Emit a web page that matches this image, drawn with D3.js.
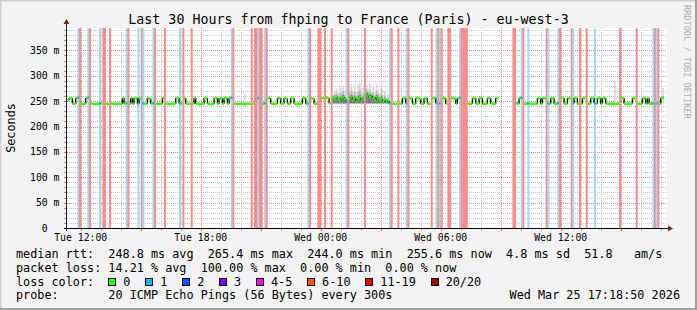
<!DOCTYPE html>
<html>
<head>
<meta charset="utf-8">
<script src="https://d3js.org/d3.v7.min.js"></script>
<style>
body { margin: 0; background: #f3f3f3; }
svg { display: block; font-family: "DejaVu Sans Mono", monospace; }
text { white-space: pre; }
</style>
</head>
<body>
<svg id="ping-viz"></svg>
<script>
// Chart data: one value per 5 minute step, first step starts Tue 11:20
const stepStart = new Date(2026, 2, 24, 11, 20);
const stepMinutes = 5;

// median rtt in ms per step (null = no answer / no data)
const median = [
  252, 256, 256, 245, 245, 256, 257, null, 245, 244, 245, 256, 257, null, 245, 245, 244, 245, 245, 246,
  245, null, null, 245, 244, null, 245, 245, 245, 244, 245, 245, 245, 256, 245, 246, null, 245, 256, 245,
  256, 256, 245, 256, null, 246, 245, 245, 256, 255, 245, 246, null, 245, 244, 245, 245, 256, null, 245,
  245, 244, 245, 245, 245, 256, 256, 246, 245, null, 256, 245, 245, 245, null, 245, 256, 245, 245, 244,
  245, 245, 256, 256, 245, 245, 244, 245, 256, 256, 245, 256, 255, 245, 256, 256, 245, 256, 257, null,
  245, 245, 244, 245, 245, 245, 244, 245, 245, 245, null, 245, null, null, 256, null, null, 245, 246, null,
  256, 256, 245, 245, 245, 245, 256, 256, 245, 245, 256, 255, 245, 245, 256, 256, 245, 244, 245, 245,
  245, 256, 256, 245, 246, null, 256, 255, 245, 245, null, null, 256, 256, null, 257, 256, 246, null, 258,
  256, 258, 254, 252, 256, 258, 254, 250, null, 255, 258, 253, 256, 250, 254, 257, 252, 255, null, 265,
  262, 258, 261, 256, 253, 258, 255, 252, 254, 250, 253, 248, 251, 246, null, 245, 245, 245, null, 245,
  245, 256, 256, 246, null, 256, 256, 245, 245, 256, 256, 255, 245, 245, 256, 256, 245, 245, null, 256,
  256, 246, null, 246, null, 256, 256, 245, null, null, 256, 256, 255, 245, 256, 257, null, null, null, null,
  245, 245, 245, 256, 256, 245, 245, 256, 256, 245, 245, 245, 256, 256, 245, 245, 245, 256, 256, null,
  null, null, null, null, null, null, null, null, null, 246, 245, 256, 257, null, 245, 245, 246, 245, 245, 244,
  245, 245, 256, 256, 245, 256, 256, null, 246, 245, 256, 256, 245, 245, 246, null, 256, 256, 245, 245,
  256, 256, null, 246, 256, 256, 245, null, 245, 256, 256, null, 245, 245, 256, 256, 246, 245, 256, 256,
  245, 256, 256, 245, 245, 245, 245, 245, 245, 245, 245, null, 256, 256, 245, 245, 245, 245, 245, 256,
  256, null, 245, 245, 245, 256, 256, 245, 256, 245, 245, 246, null, 246, null, 245, 256, 257, null, null
];

// steps with packet loss (count of 20 pings lost)
const lossStep = [6, 7, 12, 13, 19, 21, 22, 25, 35, 36, 42, 44, 45, 51, 52, 58, 67, 69, 74, 98, 99,
  110, 112, 113, 114, 115, 116, 118, 119, 144, 145, 150, 151, 154, 158, 167, 168, 178, 193, 194, 198,
  203, 204, 218, 221, 222, 223, 224, 228, 229, 235, 236, 237, 238, 239, 267, 268, 272, 273, 276,
  287, 288, 294, 295, 302, 303, 307, 311, 316, 331, 341, 351, 352, 353, 354];
const lossCount = [1, 20, 1, 20, 1, 20, 20, 20, 1, 20, 1, 20, 1, 1, 20, 20, 1, 20, 20, 1, 20,
  20, 20, 20, 1, 20, 20, 1, 20, 1, 20, 20, 20, 20, 20, 1, 20, 20, 1, 20, 20,
  1, 20, 20, 1, 20, 1, 20, 20, 20, 1, 20, 20, 20, 20, 20, 20, 1, 20, 1,
  20, 1, 1, 20, 20, 1, 20, 20, 1, 20, 20, 1, 20, 1, 20];

// smoke: highest ping (ms) in steps with jitter
const smokeStep = [106, 159, 160, 161, 162, 163, 164, 165, 166, 167, 169, 170, 171, 172, 173, 174, 175,
  176, 177, 179, 180, 181, 182, 183, 184, 185, 186, 187, 188, 189, 190, 191, 192, 193, 328, 357];
const smokeTop = [262, 264, 268, 275, 266, 280, 272, 282, 270, 264, 279, 284, 270, 281, 268, 283, 286,
  272, 276, 282, 274, 284, 270, 280, 266, 283, 272, 266, 292, 262, 270, 258, 264, 256, 289, 276];
const smokeLow = 244;

const yMinorTicks = d3.range(0, 391, 10);
const yMajorTicks = [0, 50, 100, 150, 200, 250, 300, 350];
const xLabelTimes = [new Date(2026, 2, 24, 12), new Date(2026, 2, 24, 18), new Date(2026, 2, 25, 0),
  new Date(2026, 2, 25, 6), new Date(2026, 2, 25, 12)];

const titleText = 'Last 30 Hours from fhping to France (Paris) - eu-west-3';
const rttLine = 'median rtt:  248.8 ms avg  265.4 ms max  244.0 ms min  255.6 ms now  4.8 ms sd  51.8   am/s';
const lossLine = 'packet loss: 14.21 % avg  100.00 % max  0.00 % min  0.00 % now';
const probeLine = 'probe:       20 ICMP Echo Pings (56 Bytes) every 300s';
const stampText = 'Wed Mar 25 17:18:50 2026';
const lossLabels = ['0', '1', '2', '3', '4-5', '6-10', '11-19', '20/20'];
const lossColors = ['#26ff00', '#00b8ff', '#0059ff', '#7e00ff', '#ff00ff', '#ff5500', '#ff0000', '#a10000'];

// Size of the picture and the plot box
let width = 697;
let height = 310;
let plotLeft = 67, plotRight = 667, plotTop = 28, plotBottom = 228;

let svg = d3.select('#ping-viz')
    .attr('width', width)
    .attr('height', height);

let x = d3.scaleTime()
    .domain([new Date(2026, 2, 24, 11, 18, 50), new Date(2026, 2, 25, 17, 18, 50)])
    .range([plotLeft, plotRight]);
let y = d3.scaleLinear()
    .domain([0, 200 / 0.5074])
    .range([plotBottom, plotTop]);

function stepTime(k) {
    return new Date(stepStart.getTime() + k * stepMinutes * 60000);
}

// frame
svg.append('rect').attr('width', width).attr('height', height).attr('fill', '#f3f3f3');
svg.append('path').attr('d', `M0.5,${height} V0.5 H${width}`).attr('stroke', '#d0d0d0').attr('stroke-width', 2).attr('fill', 'none');
svg.append('path').attr('d', `M0,${height - 1} H${width - 1} V0`).attr('stroke', '#a0a0a0').attr('stroke-width', 2).attr('fill', 'none');

// plot background
svg.append('rect')
    .attr('x', plotLeft).attr('y', plotTop)
    .attr('width', plotRight - plotLeft).attr('height', plotBottom - plotTop)
    .attr('fill', '#ffffff');

// grid
let grid = svg.append('g').attr('shape-rendering', 'crispEdges').attr('stroke-dasharray', '1,1');
grid.selectAll('.hminor').data(yMinorTicks.filter(v => v > 0 && v % 50 !== 0)).enter()
    .append('line')
    .attr('x1', plotLeft).attr('x2', plotRight)
    .attr('y1', d => Math.round(y(d)) + 0.5).attr('y2', d => Math.round(y(d)) + 0.5)
    .attr('stroke', '#c8c8c8');
let hourTicks = x.ticks(d3.timeHour.every(1));
grid.selectAll('.vminor').data(hourTicks.filter(d => d.getHours() % 3 !== 0)).enter()
    .append('line')
    .attr('x1', d => Math.round(x(d)) + 0.5).attr('x2', d => Math.round(x(d)) + 0.5)
    .attr('y1', plotTop).attr('y2', plotBottom)
    .attr('stroke', '#c8c8c8');
grid.selectAll('.hmajor').data(yMajorTicks.filter(v => v > 0)).enter()
    .append('line')
    .attr('x1', plotLeft).attr('x2', plotRight)
    .attr('y1', d => Math.round(y(d)) + 0.5).attr('y2', d => Math.round(y(d)) + 0.5)
    .attr('stroke', '#f08080');
grid.selectAll('.vmajor').data(hourTicks.filter(d => d.getHours() % 3 === 0)).enter()
    .append('line')
    .attr('x1', d => Math.round(x(d)) + 0.5).attr('x2', d => Math.round(x(d)) + 0.5)
    .attr('y1', plotTop).attr('y2', plotBottom)
    .attr('stroke', '#f08080');

// loss bars
let lossData = lossStep.map((k, i) => ({ k: k, n: lossCount[i] }));
svg.append('g').selectAll('rect').data(lossData).enter()
    .append('rect')
    .attr('x', d => x(stepTime(d.k)))
    .attr('width', d => x(stepTime(d.k + 1)) - x(stepTime(d.k)) + 0.3)
    .attr('y', plotTop)
    .attr('height', plotBottom - plotTop)
    .attr('fill', d => d.n >= 20 ? '#ff8a8a' : '#9cdcf6');

// smoke
let smokeData = smokeStep.map((k, i) => ({ k: k, top: smokeTop[i], med: median[k] == null ? smokeLow : median[k] }));
let smoke = svg.append('g');
smoke.selectAll('.outer').data(smokeData).enter()
    .append('rect')
    .attr('x', d => x(stepTime(d.k)))
    .attr('width', d => x(stepTime(d.k + 1)) - x(stepTime(d.k)))
    .attr('y', d => y(d.top))
    .attr('height', d => y(smokeLow) - y(d.top))
    .attr('fill', '#dadada');
smoke.selectAll('.mid').data(smokeData.filter(d => d.k > 150 && d.k < 200)).enter()
    .append('rect')
    .attr('x', d => x(stepTime(d.k)))
    .attr('width', d => x(stepTime(d.k + 1)) - x(stepTime(d.k)))
    .attr('y', d => y(d.med + (d.top - d.med) * 0.5))
    .attr('height', d => y(smokeLow + 1) - y(d.med + (d.top - d.med) * 0.5))
    .attr('fill', '#b8b8b8');
smoke.selectAll('.inner').data(smokeData.filter(d => d.k > 150 && d.k < 200)).enter()
    .append('rect')
    .attr('x', d => x(stepTime(d.k)))
    .attr('width', d => x(stepTime(d.k + 1)) - x(stepTime(d.k)))
    .attr('y', d => y(d.med + (d.top - d.med) * 0.18))
    .attr('height', d => y(smokeLow + 2) - y(d.med + (d.top - d.med) * 0.18))
    .attr('fill', '#777777');

// median: black step connectors, then coloured step segments
let lossByStep = {};
lossData.forEach(d => { lossByStep[d.k] = d.n; });
let medianData = median.map((v, k) => ({ k: k, v: v })).filter(d => d.v != null);
svg.append('g').selectAll('line').data(medianData.filter(d => median[d.k - 1] != null && median[d.k - 1] !== d.v)).enter()
    .append('line')
    .attr('x1', d => x(stepTime(d.k))).attr('x2', d => x(stepTime(d.k)))
    .attr('y1', d => y(median[d.k - 1])).attr('y2', d => y(d.v))
    .attr('stroke', '#000').attr('stroke-width', 1.3);
svg.append('g').selectAll('line').data(medianData).enter()
    .append('line')
    .attr('x1', d => x(stepTime(d.k))).attr('x2', d => x(stepTime(d.k + 1)))
    .attr('y1', d => y(d.v)).attr('y2', d => y(d.v))
    .attr('stroke', d => lossByStep[d.k] === 1 ? lossColors[1] : lossColors[0])
    .attr('stroke-width', 2.6);

// axes
let axes = svg.append('g').attr('shape-rendering', 'crispEdges');
axes.selectAll('.yt').data(yMinorTicks).enter()
    .append('line')
    .attr('x1', plotLeft - 3).attr('x2', plotLeft)
    .attr('y1', d => Math.round(y(d)) + 0.5).attr('y2', d => Math.round(y(d)) + 0.5)
    .attr('stroke', d => d % 50 === 0 ? '#e06060' : '#a0a0a0');
axes.selectAll('.xt').data(hourTicks).enter()
    .append('line')
    .attr('x1', d => Math.round(x(d)) + 0.5).attr('x2', d => Math.round(x(d)) + 0.5)
    .attr('y1', plotBottom).attr('y2', plotBottom + 3)
    .attr('stroke', d => d.getHours() % 3 === 0 ? '#e06060' : '#a0a0a0');
axes.append('line')
    .attr('x1', plotLeft - 0.5).attr('x2', plotLeft - 0.5)
    .attr('y1', plotBottom + 3).attr('y2', 22)
    .attr('stroke', '#202020');
axes.append('line')
    .attr('x1', plotLeft - 3).attr('x2', plotRight + 2)
    .attr('y1', plotBottom + 0.5).attr('y2', plotBottom + 0.5)
    .attr('stroke', '#000').attr('stroke-width', 1.5);
svg.append('path').attr('d', `M${plotLeft - 3.5},24 L${plotLeft - 0.5},19 L${plotLeft + 2.5},24 Z`).attr('fill', '#7f1f1f');
svg.append('path').attr('d', `M${plotRight + 1},${plotBottom - 2.5} L${plotRight + 6},${plotBottom + 0.5} L${plotRight + 1},${plotBottom + 3.5} Z`).attr('fill', '#7f1f1f');

// tick labels
svg.append('g').selectAll('text').data(yMajorTicks).enter()
    .append('text')
    .attr('x', 59.5)
    .attr('y', d => y(d) + 3.5)
    .attr('text-anchor', 'end')
    .attr('font-size', '9.8px')
    .text(d => d === 0 ? '0  ' : d + ' m');
let fmt = d3.timeFormat('%a %H:%M');
svg.append('g').selectAll('text').data(xLabelTimes).enter()
    .append('text')
    .attr('x', d => x(d))
    .attr('y', 241)
    .attr('text-anchor', 'middle')
    .attr('font-size', '9.8px')
    .text(d => fmt(d));

// titles
svg.append('text').attr('x', 348.5).attr('y', 23.5).attr('text-anchor', 'middle')
    .attr('font-size', '13.3px').text(titleText);
svg.append('text').attr('transform', 'translate(15,128) rotate(-90)').attr('text-anchor', 'middle')
    .attr('font-size', '11.8px').text('Seconds');
svg.append('text').attr('transform', 'translate(684,5) rotate(90)')
    .attr('font-size', '8.6px').attr('fill', '#b0b0b0').text('RRDTOOL / TOBI OETIKER');

// legend
let legendSize = '11.8px';
let charW = 7.1;
svg.append('text').attr('x', 16).attr('y', 257.7).attr('font-size', legendSize).text(rttLine);
svg.append('text').attr('x', 16).attr('y', 271.7).attr('font-size', legendSize).text(lossLine);
svg.append('text').attr('x', 16).attr('y', 285.7).attr('font-size', legendSize).text('loss color:');
svg.append('text').attr('x', 16).attr('y', 299).attr('font-size', legendSize).text(probeLine);
svg.append('text').attr('x', 680).attr('y', 299).attr('text-anchor', 'end').attr('font-size', legendSize).text(stampText);

let boxX = [];
let cursor = 108.3;
lossLabels.forEach(l => { boxX.push(cursor); cursor += (l.length + 4.2) * charW; });
let items = svg.append('g').selectAll('g').data(lossLabels).enter().append('g');
items.append('rect')
    .attr('x', (d, i) => Math.round(boxX[i]) + 0.5).attr('y', 278.5)
    .attr('width', 7).attr('height', 7)
    .attr('fill', (d, i) => lossColors[i])
    .attr('stroke', '#000');
items.append('text')
    .attr('x', (d, i) => boxX[i] + 15).attr('y', 285.7)
    .attr('font-size', legendSize)
    .text(d => d);
</script>
</body>
</html>
